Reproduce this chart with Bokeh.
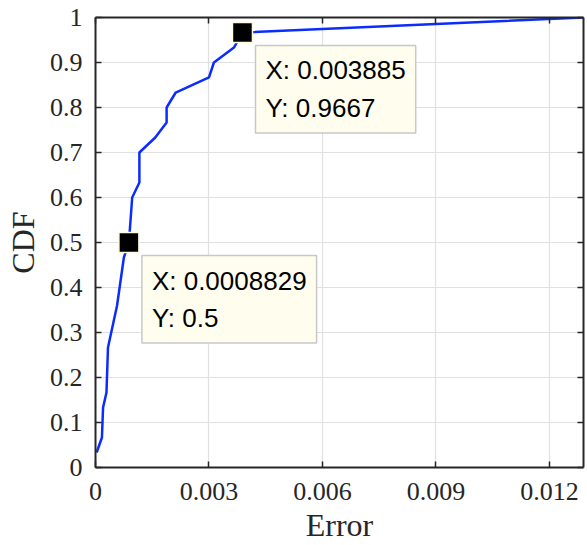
from bokeh.plotting import figure
from bokeh.models import (Range1d, FixedTicker, LinearAxis, Label,
                          CustomJSTickFormatter, ColumnDataSource)
from bokeh.embed import file_html
from bokeh.resources import INLINE

# Data
err = [0.00003, 0.00017, 0.00020, 0.00029, 0.00033, 0.00057, 0.00075,
       0.0008829, 0.00097, 0.00116, 0.00116, 0.00158, 0.00188, 0.00188,
       0.00212, 0.00300, 0.00313, 0.00366, 0.003885, 0.0129]
cdf = [0.0333, 0.0667, 0.1333, 0.1667, 0.2667, 0.36, 0.4667,
       0.5, 0.6, 0.6333, 0.7, 0.7333, 0.7667, 0.8,
       0.8333, 0.8667, 0.9, 0.9333, 0.9667, 1.0]
tip_x = [0.0008829, 0.003885]
tip_y = [0.5, 0.9667]
x_ticks = [0, 0.003, 0.006, 0.009, 0.012]
y_ticks = [0, 0.1, 0.2, 0.3, 0.4, 0.5, 0.6, 0.7, 0.8, 0.9, 1]

AX = "#262626"
SERIF = "Liberation Serif"

p = figure(width=587, height=545, output_backend="svg", toolbar_location=None,
           x_range=Range1d(0, 0.0129), y_range=Range1d(0, 1),
           min_border_left=95, min_border_right=4, min_border_top=17,
           min_border_bottom=76, background_fill_color="white",
           border_fill_color="white", outline_line_color=None)

for ax in (p.xaxis[0], p.yaxis[0]):
    ax.axis_line_color = AX
    ax.axis_line_width = 2
    ax.major_tick_line_color = AX
    ax.major_tick_line_width = 1.5
    ax.major_tick_in = 6
    ax.major_tick_out = 0
    ax.minor_tick_line_color = None
    ax.major_label_text_font = SERIF
    ax.major_label_text_font_size = "26px"
    ax.major_label_text_color = "#262626"
    ax.axis_label_text_font = SERIF
    ax.axis_label_text_font_size = "32px"
    ax.axis_label_text_font_style = "normal"
    ax.axis_label_text_color = "#262626"

p.xaxis.ticker = FixedTicker(ticks=x_ticks)
p.yaxis.ticker = FixedTicker(ticks=y_ticks)
p.xaxis.major_label_overrides = {0: "0", 0.003: "0.003", 0.006: "0.006",
                                 0.009: "0.009", 0.012: "0.012"}
p.yaxis.major_label_overrides = {0: "0", 1: "1"}
p.xaxis.axis_label = "Error"
p.yaxis.axis_label = "CDF"
p.xaxis.major_label_standoff = 15
p.yaxis.major_label_standoff = 13
p.xaxis.axis_label_standoff = 4
p.yaxis.axis_label_standoff = 6

empty = CustomJSTickFormatter(code="return ''")
top = LinearAxis(ticker=FixedTicker(ticks=x_ticks), formatter=empty)
right = LinearAxis(ticker=FixedTicker(ticks=y_ticks), formatter=empty)
for ax in (top, right):
    ax.axis_line_color = AX
    ax.axis_line_width = 2
    ax.major_tick_line_color = AX
    ax.major_tick_line_width = 1.5
    ax.major_tick_in = 6
    ax.major_tick_out = 0
    ax.minor_tick_line_color = None
    ax.major_label_standoff = 0
    ax.major_label_text_font_size = "1px"
p.add_layout(top, "above")
p.add_layout(right, "right")

p.xgrid.ticker = FixedTicker(ticks=x_ticks[1:])
p.ygrid.ticker = FixedTicker(ticks=y_ticks[1:-1])
p.xgrid.grid_line_color = "#e0e0e0"
p.ygrid.grid_line_color = "#e0e0e0"
p.xgrid.grid_line_width = 1.2
p.ygrid.grid_line_width = 1.2

p.line(err, cdf, line_color="#0a2cff", line_width=2.5)

src = ColumnDataSource(dict(x=tip_x, y=tip_y))
p.scatter("x", "y", source=src, marker="square", size=20,
          fill_color="black", line_color="#fffbe0", line_width=1.5)

for xv, yv in zip(tip_x, tip_y):
    lab = Label(x=xv, y=yv, x_offset=13, y_offset=-13, anchor="top_left",
                text=f"X: {xv:.4g}\nY: {yv:.4g}",
                text_font="Liberation Sans", text_font_size="26px",
                text_line_height=1.25, text_color="black",
                background_fill_color="#fffdee",
                border_line_color="#c8c8c8", border_line_width=1.5,
                padding=10)
    p.add_layout(lab)

open("out.html", "w").write(file_html(p, INLINE))
